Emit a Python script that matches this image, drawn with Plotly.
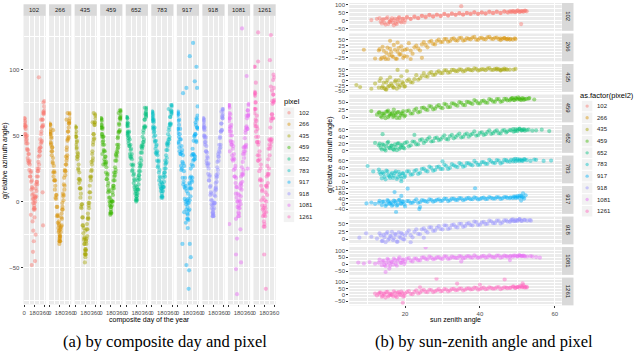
import plotly.graph_objects as go

W, H = 640, 352

pixels = [102, 266, 435, 459, 652, 783, 917, 918, 1081, 1261]
colors = ['#F8766D', '#D89000', '#A3A500', '#39B600', '#00BF7D',
          '#00BFC4', '#00B0F6', '#9590FF', '#E76BF3', '#FF62BC']

# ---- (a) composite day of the year ----
arm_days = [2, 6, 10, 14, 18, 24, 30, 36, 44, 52, 60, 68, 76, 84, 92, 100, 110, 120, 130, 140, 150, 160, 168, 176,
            184, 190, 198, 206, 214, 222, 230, 238, 246, 254, 262, 270, 278, 286, 294, 302, 310, 318, 326, 334, 342, 350, 358, 364]
arm_days_b = [4, 8, 12, 16, 21, 27, 33, 40, 48, 56, 64, 72, 80, 88, 96, 105, 115, 125, 135, 145, 155, 164, 172, 179,
              182, 187, 194, 202, 210, 218, 226, 234, 242, 250, 258, 266, 274, 282, 290, 298, 306, 314, 322, 330, 338, 346, 354, 361]

g_day_102 = [63, 56, 60, 51, 58, 51, 57, 44, 47, 40, 44, 31, 36, 36, 24, 28, 19, 23, 9, 11, 10, -1, 2, -5,
             -5, 4, 0, 10, 4, 15, 15, 25, 19, 30, 25, 40, 35, 41, 41, 51, 45, 56, 62, 57, 67, 66, 72, 69]
g_day_266 = [59, 51, 58, 45, 52, 44, 49, 35, 38, 30, 33, 19, 23, 22, 9, 12, 2, 5, -11, -10, -11, -23, -22, -29,
             -30, -20, -23, -12, -18, -6, -4, 6, 1, 13, 9, 24, 20, 28, 28, 39, 33, 46, 53, 48, 59, 59, 66, 63]
g_day_435 = [57, 49, 56, 43, 49, 41, 46, 32, 34, 25, 28, 14, 17, 16, 3, 6, -5, -2, -18, -18, -20, -32, -32, -39,
             -40, -29, -32, -21, -26, -13, -12, -1, -5, 7, 3, 19, 16, 23, 24, 36, 31, 43, 51, 47, 58, 58, 66, 63]
g_day_459 = [63, 56, 62, 51, 58, 51, 56, 43, 46, 39, 43, 30, 34, 34, 22, 26, 17, 21, 7, 9, 8, -3, -1, -8,
             -8, 1, -3, 7, 0, 12, 12, 22, 16, 26, 22, 36, 31, 38, 37, 48, 41, 52, 59, 53, 63, 62, 68, 65]
g_day_652 = [64, 57, 63, 52, 60, 53, 59, 46, 49, 42, 47, 34, 39, 40, 28, 32, 24, 28, 14, 17, 16, 6, 8, 2,
             2, 11, 6, 16, 9, 20, 20, 29, 23, 33, 28, 42, 37, 43, 42, 52, 45, 56, 62, 56, 66, 64, 70, 66]
g_day_783 = [68, 61, 67, 56, 64, 57, 62, 49, 53, 46, 50, 37, 42, 43, 31, 35, 27, 31, 16, 19, 18, 8, 10, 4,
             4, 13, 8, 18, 11, 22, 22, 31, 25, 35, 30, 44, 39, 45, 44, 54, 47, 58, 64, 58, 68, 66, 72, 68]
g_day_917 = [65, 52, 68, 45, 61, 49, 62, 38, 47, 36, 47, 24, 37, 39, 18, 29, 15, 27, 2, 10, 12, -6, 1, -9,
             -10, 6, -7, 10, -6, 13, 10, 25, 10, 28, 15, 40, 27, 36, 32, 49, 32, 51, 60, 46, 63, 56, 65, 55]
g_day_918 = [63, 56, 62, 50, 58, 50, 56, 43, 45, 38, 42, 29, 34, 33, 21, 25, 16, 20, 5, 7, 6, -5, -3, -9,
             -10, -1, -5, 5, -1, 10, 11, 20, 15, 26, 21, 36, 31, 38, 37, 48, 41, 53, 59, 54, 64, 63, 69, 66]
g_day_1081 = [72, 61, 73, 55, 67, 57, 66, 46, 53, 43, 50, 32, 40, 42, 24, 32, 19, 27, 6, 11, 11, -4, 0, -8,
              -9, 5, -5, 10, -2, 14, 12, 26, 15, 30, 21, 41, 33, 41, 38, 52, 41, 56, 65, 55, 69, 65, 73, 66]
g_day_1261 = [81, 67, 83, 59, 75, 62, 75, 49, 57, 45, 55, 31, 43, 45, 23, 32, 17, 28, 1, 8, 9, -11, -5, -15,
              -17, 1, -11, 7, -8, 12, 11, 27, 14, 32, 21, 47, 35, 46, 42, 61, 45, 66, 76, 63, 81, 75, 86, 77]

g_dayb_102 = [58, 63, 57, 61, 49, 55, 46, 49, 50, 39, 33, 39, 29, 30, 31, 19, 22, 15, 16, 5, 2, 6, -6, -3,
              -1, -6, 3, 3, 13, 8, 19, 13, 23, 23, 34, 28, 38, 38, 47, 44, 53, 46, 57, 62, 58, 68, 67, 76]
g_dayb_266 = [53, 58, 51, 55, 43, 48, 38, 41, 41, 29, 22, 27, 16, 16, 16, 3, 5, -4, -4, -16, -20, -17, -30, -28,
              -26, -30, -21, -19, -9, -13, -1, -6, 4, 5, 18, 12, 23, 23, 34, 31, 41, 35, 47, 53, 49, 61, 60, 67]
g_dayb_435 = [51, 56, 49, 53, 40, 45, 34, 37, 36, 24, 17, 22, 10, 10, 10, -4, -2, -12, -12, -24, -29, -27, -40, -37,
              -36, -40, -30, -28, -17, -21, -9, -13, -3, -1, 12, 7, 18, 19, 30, 28, 38, 33, 45, 51, 48, 60, 60, 65]
g_dayb_459 = [58, 63, 56, 61, 49, 55, 45, 49, 49, 38, 32, 38, 28, 29, 30, 17, 20, 12, 14, 3, 0, 3, -9, -6,
              -4, -9, 0, 0, 10, 5, 16, 10, 19, 20, 31, 24, 35, 34, 43, 40, 49, 43, 53, 58, 54, 64, 63, 69]
g_dayb_652 = [59, 64, 58, 63, 51, 57, 48, 52, 53, 42, 36, 43, 33, 34, 36, 23, 27, 20, 21, 11, 9, 12, 1, 4,
              6, 1, 9, 9, 18, 13, 23, 17, 26, 27, 37, 31, 41, 40, 49, 45, 54, 47, 57, 62, 57, 67, 65, 71]
g_dayb_783 = [63, 68, 62, 66, 55, 61, 52, 55, 56, 45, 40, 46, 36, 37, 38, 26, 30, 22, 24, 13, 11, 15, 3, 6,
              8, 3, 11, 11, 20, 15, 25, 19, 28, 29, 39, 33, 43, 42, 51, 47, 56, 49, 59, 64, 59, 69, 67, 73]
g_dayb_917 = [55, 67, 55, 66, 44, 58, 41, 51, 55, 36, 27, 42, 25, 30, 35, 13, 23, 11, 18, 0, -2, 8, -13, -4,
              -1, -13, 2, -1, 14, 1, 18, 4, 19, 16, 35, 18, 36, 31, 46, 35, 50, 34, 51, 58, 45, 62, 56, 72]
g_dayb_918 = [57, 63, 56, 61, 49, 54, 45, 48, 49, 38, 31, 37, 27, 28, 29, 16, 19, 11, 12, 1, -2, 1, -11, -8,
              -6, -11, -2, -1, 8, 4, 14, 9, 18, 19, 30, 24, 34, 34, 43, 40, 49, 43, 53, 59, 54, 65, 63, 70]
g_dayb_1081 = [64, 73, 63, 71, 53, 63, 50, 56, 58, 43, 35, 45, 31, 33, 36, 19, 25, 14, 18, 3, 0, 6, -11, -5,
               -3, -11, 1, 0, 13, 4, 19, 9, 21, 20, 36, 24, 38, 36, 48, 42, 54, 43, 57, 63, 55, 69, 65, 74]
g_dayb_1261 = [70, 82, 70, 80, 57, 70, 53, 61, 65, 45, 35, 49, 31, 35, 38, 16, 25, 12, 16, -3, -6, 3, -19, -10,
               -8, -19, -3, -5, 12, 0, 19, 5, 21, 20, 40, 25, 43, 40, 56, 47, 63, 47, 66, 74, 63, 81, 76, 94]

out_day_102 = [150, 162, 172, 158, 135, 195, 205, 338, 330, 262, 120, 185, 345, 300]
out_g_102 = [-15, -22, -30, -38, -48, -45, -25, -18, 7, 94, -10, -12, 75, 62]
out_day_266 = [172, 180, 168, 176, 186, 164, 300, 320, 340, 60]
out_g_266 = [-32, -27, -18, -25, -26, -15, 62, 67, 56, 54]
out_day_435 = [172, 180, 185, 165, 190, 178, 310, 330]
out_g_435 = [-46, -42, -36, -28, -37, -22, 60, 67]
out_day_459 = [170, 180, 25, 45, 320, 340]
out_g_459 = [-10, -4, 36, 28, 67, 69]
out_day_652 = [176, 185, 20, 40, 330, 350]
out_g_652 = [0, 4, 50, 44, 71, 68]
out_day_783 = [172, 180, 10, 30, 300, 345]
out_g_783 = [10, 14, 65, 60, 70, 73]
out_day_917 = [279, 220, 340, 99, 160, 310, 351, 88, 220, 160, 207, 238, 200, 150, 185, 195, 120]
out_g_917 = [120, 110, 102, 82, 86, 91, 86, -32, -32, -48, -52, -42, -66, -16, -20, -14, -8]
out_day_918 = [180, 175, 15, 5, 330, 350]
out_g_918 = [-11, -8, 55, 60, 68, 70]
out_day_1081 = [324, 241, 13, 133, 211, 151, 133, 223, 133, 151, 342, 20, 40]
out_g_1081 = [95, 131, -17, -13, -21, -28, -40, -46, -51, -70, 25, 38, 45]
out_day_1261 = [72, 12, 72, 300, 282, 0, 347, 300, 180, 210, 30, 18, 340, 320]
out_g_1261 = [128, 102, 106, 126, 107, 102, 96, 87, -40, -66, 90, 82, 92, 84]

# ---- (b) sun zenith angle ----
sza_102 = [11, 12.5, 13.5, 14, 14.5, 15, 15.5, 16, 16, 16.5, 17, 17, 17.5, 18, 18, 18.5, 19, 19.5, 20, 20.5,
           21.5, 22.5, 23.5, 24.5, 25.5, 26.5, 27.5, 28.5, 29.5, 30.5, 31.5, 32.5, 33.5, 34.5, 35.5, 36.5, 37.5,
           38.5, 39.5, 40.5, 41.5, 42.5, 43.5, 44.5, 45.5, 46.5, 47.5, 48, 48.5, 49, 49.5, 50, 50.5, 51, 51.5,
           52, 52.5, 35, 51]
g_sza_102 = [5, 12, -5, 8, -12, 15, -20, 2, -8, 18, -28, 5, -15, 10, -3, 22, -10, 14, 4, 25,
             12, 28, 18, 32, 22, 36, 28, 40, 30, 42, 35, 45, 38, 47, 40, 50, 43, 52, 44, 53,
             46, 55, 48, 56, 50, 58, 52, 60, 55, 62, 54, 64, 57, 61, 58, 65, 60, 92, -20]
sza_266 = [9, 12, 13, 13.5, 14, 14.5, 15, 15.5, 16, 16.5, 17, 17.5, 18, 18.5, 19, 19.5, 20, 20.5, 21, 22,
           23, 24, 25, 26, 27, 28, 29, 30, 31, 32, 33, 34, 35, 36, 37, 38, 39, 40, 41, 42,
           43, 44, 45, 45.5, 46, 46.5, 47, 47.5, 48, 49.5, 21.5, 24.5, 16, 18]
g_sza_266 = [8, -28, 5, -30, 20, -22, -5, -30, 12, -18, 28, -29, 0, -12, 22, -25, 8, -20, 35, -8,
             25, 5, 40, 18, 45, 30, 50, 40, 52, 44, 55, 46, 57, 48, 53, 58, 50, 56, 52, 59,
             54, 57, 52, 55, 53, 56, 52, 54, 50, 52, -30, -25, 45, 38]
sza_435 = [7, 8, 11, 12, 13, 13.5, 14, 14.5, 15, 15.5, 16, 16.5, 17, 17.5, 18, 18.5, 19, 19.5, 20, 21,
           22, 23, 24, 25, 26, 27, 28, 29, 30, 31, 32, 33, 34, 35, 36, 37, 38, 39, 40, 41,
           42, 43, 44, 44.5, 45, 45.5, 46, 46.5, 47, 49, 18, 20.5, 15]
g_sza_435 = [-22, -32, -40, -15, -35, 10, -28, -38, -10, -30, 15, -25, -35, 0, -20, -32, 20, -15, -28, 5,
             -10, 25, 10, 35, 18, 40, 28, 45, 35, 48, 40, 50, 44, 52, 46, 54, 48, 55, 50, 53,
             56, 51, 55, 52, 54, 50, 53, 51, 54, 52, 50, 45, -45]
sza_459 = [11, 12.5, 13, 13.5, 14, 14.5, 15, 15.5, 16, 16.5, 17, 17.5, 18, 18.5, 19, 19.5, 20, 21, 22, 23,
           24, 25, 26, 27, 28, 29, 30, 31, 32, 33, 34, 35, 36, 37, 38, 39, 40, 41, 42, 43,
           44, 45, 46, 47, 48, 48.5, 49, 49.5, 50, 50.5, 51, 51.5, 52, 53, 54.5, 17, 15.5]
g_sza_459 = [20, 8, 15, 3, 12, 6, 18, 0, 10, 14, 4, 8, 16, -3, 11, 20, 6, 22, 12, 28,
             18, 32, 24, 35, 28, 40, 30, 42, 34, 45, 38, 48, 40, 50, 44, 53, 46, 55, 48, 58,
             51, 60, 53, 61, 56, 63, 58, 64, 59, 62, 57, 63, 60, 62, 59, 25, 22]
sza_652 = [12, 13, 13.5, 14, 14.5, 15, 15.5, 16, 16.5, 17, 17.5, 18, 18.5, 19, 19.5, 20, 21, 22, 23, 24,
           25, 26, 27, 28, 29, 30, 31, 32, 33, 34, 35, 36, 37, 38, 39, 40, 41, 42, 43, 44,
           45, 46, 47, 48, 49, 49.5, 50, 50.5, 51, 51.5, 52, 53, 55, 58.5, 14, 22.5]
g_sza_652 = [22, 15, 8, 18, 4, 12, 25, 6, 14, 2, 10, 20, 5, 15, 8, 22, 12, 26, 18, 30,
             22, 33, 26, 36, 30, 38, 33, 41, 35, 44, 38, 46, 40, 48, 43, 51, 45, 53, 48, 55,
             50, 57, 52, 59, 54, 61, 56, 62, 58, 60, 57, 60, 58, 56, 47, 45]
sza_783 = [10, 11.5, 13, 13.5, 14, 14.5, 15, 15.5, 16, 16.5, 17, 17.5, 18, 18.5, 19, 19.5, 20, 21, 22, 23,
           24, 25, 26, 27, 28, 29, 30, 31, 32, 33, 34, 35, 36, 37, 38, 39, 40, 41, 42, 43,
           44, 45, 46, 47, 48, 49, 49.5, 50, 50.5, 51, 51.5, 52, 53.5, 55, 59, 19, 30]
g_sza_783 = [45, 30, 35, 22, 28, 15, 32, 20, 12, 26, 18, 30, 14, 22, 10, 25, 18, 30, 22, 34,
             26, 38, 30, 40, 34, 43, 37, 45, 40, 47, 42, 50, 45, 52, 47, 54, 49, 56, 51, 58,
             53, 60, 55, 61, 57, 63, 58, 64, 59, 62, 60, 63, 59, 62, 60, 2, 58]
sza_917 = [9.7, 11, 12, 13, 14, 15, 15.5, 16, 16.5, 17, 17.5, 18, 18.5, 19, 19.5, 20, 21, 22, 23, 24,
           25, 26, 27, 28, 29, 30, 31, 32, 33, 34, 35, 36, 37, 38, 39, 40, 41, 42, 43, 44,
           45, 46, 47, 48, 49, 49.5, 50, 50.5, 51, 51.5, 51.5, 17.2, 20.7, 17.6, 23.8, 38.7, 51, 19, 24]
g_sza_917 = [3, 10, 0, 8, 15, -5, 20, 5, -15, 25, 10, -8, 30, 2, 15, -20, 20, 8, 35, 12,
             25, 15, 30, 22, 35, 25, 38, 28, 40, 30, 42, 33, 45, 35, 44, 37, 48, 38, 46, 40,
             50, 42, 52, 44, 55, 45, 58, 48, 60, 80, 50, 90, 116, -63, -40, 119, 25, 60, -25]
sza_918 = [7.8, 9.6, 11, 12.5, 13.5, 14, 14.5, 15, 15.5, 16, 16.5, 17, 17.5, 18, 18.5, 19, 19.5, 20, 21, 22,
           23, 24, 25, 26, 27, 28, 29, 30, 31, 32, 33, 34, 35, 36, 37, 38, 39, 40, 41, 42,
           43, 44, 45, 46, 47, 48, 48.5, 49, 49.5, 50, 50.5, 51, 52, 53.6, 21.5, 25]
g_sza_918 = [5, 19, 8, 2, 12, -5, 6, 18, -2, 10, 24, 3, 14, -8, 8, 20, 0, 12, 28, 6,
             32, 16, 35, 22, 38, 28, 42, 32, 44, 36, 47, 38, 50, 42, 52, 45, 55, 47, 56, 50,
             58, 52, 60, 54, 61, 56, 63, 58, 62, 59, 64, 60, 62, 60, -10, 5]
sza_1081 = [7.5, 9, 10.5, 12, 13, 14, 14.5, 15, 15.5, 16, 16.5, 17, 17.5, 18, 18.5, 19, 19.5, 20, 21, 22,
            23, 24, 25, 26, 27, 28, 29, 30, 31, 32, 33, 34, 35, 36, 37, 38, 39, 40, 41, 42,
            43, 44, 45, 46, 47, 48, 49, 50, 50.5, 51, 51.5, 52, 54, 56, 25.5, 14.8, 15.8, 35, 48]
g_sza_1081 = [12, 5, 15, 3, 10, 20, -5, 8, 30, -12, 15, 40, 2, 25, 50, 10, 35, 18, 45, 20,
              40, 28, 50, 35, 48, 40, 52, 38, 55, 42, 50, 45, 55, 47, 58, 48, 54, 50, 60, 52,
              56, 50, 62, 53, 58, 55, 63, 57, 65, 58, 62, 56, 55, 47, 122, -57, -32, 20, 30]
sza_1261 = [12, 12.5, 13, 13.5, 14, 14.5, 15, 15.5, 16, 16.5, 17, 17.5, 18, 18.5, 19, 19.5, 20, 21, 22, 23,
            24, 25, 26, 27, 28, 29, 30, 31, 32, 33, 34, 35, 36, 37, 38, 39, 40, 41, 42, 43,
            44, 45, 46, 47, 48, 49, 49.5, 50, 50.5, 51, 51.5, 52, 52.5, 19.4, 28.4, 46.6, 33.9, 51.4, 24, 40]
g_sza_1261 = [10, -5, 8, 18, -8, 5, 22, -12, 10, 0, 28, -10, 15, 3, 25, -15, 12, 30, 5, 35,
              18, 40, 22, 38, 28, 45, 30, 42, 35, 48, 38, 50, 40, 52, 44, 55, 46, 58, 48, 55,
              50, 62, 52, 58, 55, 65, 56, 62, 58, 70, 60, 64, 58, -63, 128, 122, 89, 90, 60, 80]

# second pass of observations (shared zenith angles for the dense core)
sza_core2 = [13.2, 13.8, 14.3, 14.8, 15.3, 15.8, 16.3, 16.8, 17.3, 17.8, 18.3, 18.8, 19.3, 19.8,
             20.5, 21.5, 22.5, 23.5, 24.5, 25.5, 26.5, 27.5, 28.5, 29.5, 30.5, 31.5, 32.5, 33.5,
             34.5, 35.5, 36.5, 37.5, 38.5, 39.5, 40.5, 41.5, 42.5, 43.5, 44.5, 45.5, 46.5, 47.3]
g2_102 = [17, -16, 10, -23, 22, -6, 5, -13, 14, -20, 20, -3, 12, -10, 21, 13, 24, 17, 32, 27, 38, 27,
          37, 32, 44, 33, 45, 39, 48, 39, 49, 45, 55, 44, 52, 47, 58, 50, 58, 49, 59, 55]
g2_266 = [11, -25, 4, -30, 17, -14, -2, -21, 8, -29, 15, -10, 6, -18, 11, 5, 18, 13, 30, 28, 41, 32,
          44, 40, 52, 41, 53, 47, 56, 46, 56, 51, 61, 49, 57, 51, 61, 52, 58, 48, 56, 51]
g2_435 = [-3, -36, -10, -42, 2, -26, -15, -33, -6, -40, 0, -23, -8, -30, -2, -8, 6, 3, 21, 20, 34, 26,
          38, 35, 48, 37, 50, 44, 53, 43, 53, 49, 58, 47, 54, 49, 59, 50, 57, 47, 56, 51]
g2_459 = [16, -1, 12, -4, 18, 4, 10, 0, 14, -3, 17, 5, 13, 2, 20, 12, 23, 16, 31, 26, 37, 26,
          36, 32, 44, 33, 46, 41, 50, 41, 51, 47, 57, 46, 54, 49, 60, 52, 60, 51, 61, 56]
g2_652 = [20, 3, 16, 0, 22, 8, 14, 4, 18, 1, 21, 9, 17, 6, 24, 15, 25, 18, 32, 27, 38, 27,
          37, 32, 44, 32, 45, 39, 49, 39, 49, 45, 55, 44, 52, 47, 58, 50, 58, 49, 59, 55]
g2_783 = [28, 11, 24, 8, 30, 16, 22, 12, 26, 9, 29, 17, 25, 14, 30, 21, 31, 23, 37, 32, 43, 32,
          42, 37, 49, 37, 50, 44, 53, 43, 53, 49, 59, 48, 56, 51, 62, 54, 61, 52, 62, 58]
g2_917 = [23, -10, 16, -17, 28, 0, 11, -7, 20, -14, 26, 3, 18, -4, 21, 7, 20, 8, 28, 19, 35, 16,
          30, 22, 39, 21, 39, 30, 43, 27, 42, 35, 50, 33, 44, 36, 52, 40, 51, 37, 52, 45]
g2_918 = [19, -6, 14, -10, 23, 2, 10, -3, 17, -8, 22, 4, 16, -1, 21, 13, 24, 17, 32, 27, 38, 27,
          37, 33, 45, 33, 46, 40, 50, 40, 50, 46, 57, 46, 54, 49, 60, 52, 60, 51, 61, 57]
g2_1081 = [33, -7, 25, -15, 39, 5, 19, -3, 29, -11, 37, 9, 27, 1, 39, 26, 41, 28, 48, 39, 55, 36,
           49, 41, 57, 38, 55, 46, 58, 42, 57, 49, 64, 46, 57, 48, 64, 51, 62, 47, 62, 54]
g2_1261 = [18, -15, 11, -22, 23, -5, 6, -12, 15, -19, 21, -2, 13, -9, 21, 8, 23, 11, 32, 24, 40, 22,
           36, 29, 46, 28, 46, 37, 50, 34, 50, 43, 58, 41, 52, 44, 60, 48, 59, 45, 60, 53]

tail_sza_102 = [48.2, 48.7, 49.2, 49.7, 50.2, 50.7, 51.2, 51.7, 52.2]
tail_g_102 = [58, 62, 55, 60, 64, 57, 62, 59, 63]
tail_sza_266 = [48.2, 48.8, 49.3]
tail_g_266 = [53, 50, 55]
tail_sza_435 = [48, 49.5]
tail_g_435 = [52, 55]
tail_sza_459 = [48.2, 48.7, 49.2, 49.7, 50.2, 50.7, 51.2, 51.7, 52.4, 53.2]
tail_g_459 = [60, 64, 57, 62, 66, 59, 63, 58, 61, 64]
tail_sza_652 = [48.3, 48.9, 49.4, 50, 50.6, 51.2, 51.8, 52.5, 54, 56.5]
tail_g_652 = [58, 62, 56, 60, 63, 58, 61, 59, 57, 60]
tail_sza_783 = [48.3, 48.9, 49.4, 50, 50.6, 51.2, 51.8, 52.5, 54.5, 57]
tail_g_783 = [62, 58, 65, 60, 63, 59, 64, 61, 63, 59]
tail_sza_917 = [48.2, 48.8, 49.4, 50, 50.6, 51.2, 51.8, 52.2]
tail_g_917 = [50, 44, 56, 47, 62, 52, 40, 65]
tail_sza_918 = [48.2, 48.8, 49.4, 50, 50.6, 51.2, 51.8, 52.6, 53.3]
tail_g_918 = [60, 64, 58, 62, 65, 59, 63, 60, 62]
tail_sza_1081 = [48.2, 48.8, 49.4, 50, 50.6, 51.2, 51.8, 52.6, 53.5, 55]
tail_g_1081 = [60, 54, 62, 57, 64, 59, 61, 56, 58, 52]
tail_sza_1261 = [48.2, 48.8, 49.4, 50, 50.6, 51.2, 51.6, 52, 52.5]
tail_g_1261 = [58, 65, 55, 62, 68, 60, 75, 57, 63]

# free y scales of the right-hand facets
row_ranges = [[-62, 112], [-39.6, 75], [-54.8, 78.6], [-17.7, 75.7], [-6.6, 73.4],
              [-3, 74], [-77, 136], [-16.7, 73.3], [-77.7, 124.7], [-84, 137]]
row_ticks = [[-50, 0, 50, 100], [-25, 0, 25, 50], [-50, -25, 0, 25, 50], [0, 25, 50], [0, 20, 40, 60],
             [0, 20, 40, 60], [-40, 0, 40, 80, 120], [0, 25, 50], [-50, 0, 50, 100], [-50, 0, 50, 100]]

day_series = [
    (arm_days + arm_days_b + out_day_102, g_day_102 + g_dayb_102 + out_g_102),
    (arm_days + arm_days_b + out_day_266, g_day_266 + g_dayb_266 + out_g_266),
    (arm_days + arm_days_b + out_day_435, g_day_435 + g_dayb_435 + out_g_435),
    (arm_days + arm_days_b + out_day_459, g_day_459 + g_dayb_459 + out_g_459),
    (arm_days + arm_days_b + out_day_652, g_day_652 + g_dayb_652 + out_g_652),
    (arm_days + arm_days_b + out_day_783, g_day_783 + g_dayb_783 + out_g_783),
    (arm_days + arm_days_b + out_day_917, g_day_917 + g_dayb_917 + out_g_917),
    (arm_days + arm_days_b + out_day_918, g_day_918 + g_dayb_918 + out_g_918),
    (arm_days + arm_days_b + out_day_1081, g_day_1081 + g_dayb_1081 + out_g_1081),
    (arm_days + arm_days_b + out_day_1261, g_day_1261 + g_dayb_1261 + out_g_1261),
]
sza_series = [
    (sza_102 + sza_core2 + tail_sza_102, g_sza_102 + g2_102 + tail_g_102),
    (sza_266 + sza_core2 + tail_sza_266, g_sza_266 + g2_266 + tail_g_266),
    (sza_435 + sza_core2 + tail_sza_435, g_sza_435 + g2_435 + tail_g_435),
    (sza_459 + sza_core2 + tail_sza_459, g_sza_459 + g2_459 + tail_g_459),
    (sza_652 + sza_core2 + tail_sza_652, g_sza_652 + g2_652 + tail_g_652),
    (sza_783 + sza_core2 + tail_sza_783, g_sza_783 + g2_783 + tail_g_783),
    (sza_917 + sza_core2 + tail_sza_917, g_sza_917 + g2_917 + tail_g_917),
    (sza_918 + sza_core2 + tail_sza_918, g_sza_918 + g2_918 + tail_g_918),
    (sza_1081 + sza_core2 + tail_sza_1081, g_sza_1081 + g2_1081 + tail_g_1081),
    (sza_1261 + sza_core2 + tail_sza_1261, g_sza_1261 + g2_1261 + tail_g_1261),
]

SANS = 'Liberation Sans, Arial, sans-serif'
SERIF = 'Liberation Serif, Times New Roman, serif'
PANEL = '#EBEBEB'
STRIP = '#D9D9D9'
TICKC = '#4D4D4D'
MSIZE, MALPHA = 4.2, 0.45


def fx(px):
    return px / W


def fy(py):
    return 1 - py / H


def rgba(hexc, a):
    h = hexc.lstrip('#')
    return 'rgba(%d,%d,%d,%.2f)' % (int(h[0:2], 16), int(h[2:4], 16), int(h[4:6], 16), a)


def minor_mid(ticks):
    step = ticks[1] - ticks[0]
    return [t - step / 2 for t in ticks] + [ticks[-1] + step / 2]


fig = go.Figure()
layout = {}
shapes = []
annotations = []

axis_common = dict(zeroline=False, showline=False, gridcolor='white', gridwidth=1,
                   tickfont=dict(family=SANS, size=6, color=TICKC), tickangle=0,
                   ticklen=2, tickwidth=0.6, tickcolor='#333333')

# ---- left chart: 10 facets in a row ----
lx0, lpitch, lw = 22.7, 25.75, 22.4
a_top, a_bot = 15.0, 306.0
for i, p in enumerate(pixels):
    n = i + 1
    sfx = '' if n == 1 else str(n)
    x0 = lx0 + i * lpitch
    xs, ys = day_series[i]
    fig.add_trace(go.Scatter(x=xs, y=ys, mode='markers', xaxis='x' + sfx, yaxis='y' + sfx,
                             marker=dict(color=colors[i], size=MSIZE, opacity=MALPHA, line=dict(width=0)),
                             showlegend=False, hoverinfo='skip'))
    layout['xaxis' + sfx] = dict(axis_common, domain=[fx(x0), fx(x0 + lw)], anchor='y' + sfx,
                                 range=[-12, 386], tickmode='array', tickvals=[0, 180, 360],
                                 ticks='outside',
                                 minor=dict(tickvals=[90, 270], showgrid=True, gridcolor='white', gridwidth=0.5))
    ya = dict(axis_common, domain=[fy(a_bot), fy(a_top)], anchor='x' + sfx, range=[-77.75, 140.5],
              tickmode='array', tickvals=[-50, 0, 50, 100],
              minor=dict(tickvals=[-75, -25, 25, 75, 125], showgrid=True, gridcolor='white', gridwidth=0.5))
    if n == 1:
        ya.update(ticks='outside')
    else:
        ya.update(showticklabels=False, ticks='')
    layout['yaxis' + sfx] = ya
    shapes.append(dict(type='rect', xref='paper', yref='paper', x0=fx(x0), x1=fx(x0 + lw),
                       y0=fy(a_top), y1=fy(3.3), fillcolor=STRIP, line=dict(width=0), layer='below'))
    annotations.append(dict(xref='paper', yref='paper', x=fx(x0 + lw / 2), y=fy(9.2), text=str(p),
                            showarrow=False, font=dict(family=SANS, size=6, color='#1A1A1A'),
                            xanchor='center', yanchor='middle'))

# ---- right chart: 10 facets stacked ----
rx0, rx1 = 351.0, 565.0
r_top0, r_pitch, r_h = 2.0, 30.77, 28.07
for j, p in enumerate(pixels):
    n = 11 + j
    top = r_top0 + j * r_pitch
    bot = top + r_h
    xs, ys = sza_series[j]
    fig.add_trace(go.Scatter(x=xs, y=ys, mode='markers', xaxis='x%d' % n, yaxis='y%d' % n,
                             marker=dict(color=colors[j], size=MSIZE, opacity=MALPHA, line=dict(width=0)),
                             showlegend=False, hoverinfo='skip'))
    xa = dict(axis_common, domain=[fx(rx0), fx(rx1)], anchor='y%d' % n, range=[5.1, 61.8],
              tickmode='array', tickvals=[20, 40, 60],
              minor=dict(tickvals=[10, 30, 50], showgrid=True, gridcolor='white', gridwidth=0.5))
    if j == 9:
        xa.update(ticks='outside')
    else:
        xa.update(showticklabels=False, ticks='', matches='x20')
    layout['xaxis%d' % n] = xa
    tv = row_ticks[j]
    layout['yaxis%d' % n] = dict(axis_common, domain=[fy(bot), fy(top)], anchor='x%d' % n,
                                 range=row_ranges[j], tickmode='array', tickvals=tv, ticks='outside',
                                 minor=dict(tickvals=minor_mid(tv), showgrid=True, gridcolor='white',
                                            gridwidth=0.5))
    shapes.append(dict(type='rect', xref='paper', yref='paper', x0=fx(565.3), x1=fx(577.0),
                       y0=fy(bot), y1=fy(top), fillcolor=STRIP, line=dict(width=0), layer='below'))
    annotations.append(dict(xref='paper', yref='paper', x=fx(571.2), y=fy((top + bot) / 2), text=str(p),
                            textangle=90, showarrow=False, font=dict(family=SANS, size=6, color='#1A1A1A'),
                            xanchor='center', yanchor='middle'))


# ---- legends (ggplot style keys) ----
def add_legend(title, tx, ty, kx, ky0, kstep, lab_x):
    annotations.append(dict(xref='paper', yref='paper', x=fx(tx), y=fy(ty), text=title, showarrow=False,
                            xanchor='left', yanchor='middle', font=dict(family=SANS, size=7.5, color='black')))
    for k, p in enumerate(pixels):
        cy = ky0 + k * kstep
        shapes.append(dict(type='rect', xref='paper', yref='paper', x0=fx(kx), x1=fx(kx + 10.5),
                           y0=fy(cy + 5.3), y1=fy(cy - 5.3), fillcolor='#F2F2F2', line=dict(width=0)))
        cx = kx + 5.25
        shapes.append(dict(type='circle', xref='paper', yref='paper', x0=fx(cx - 1.7), x1=fx(cx + 1.7),
                           y0=fy(cy + 1.7), y1=fy(cy - 1.7), fillcolor=rgba(colors[k], 0.45),
                           line=dict(width=0)))
        annotations.append(dict(xref='paper', yref='paper', x=fx(lab_x), y=fy(cy), text=str(p),
                                showarrow=False, xanchor='left', yanchor='middle',
                                font=dict(family=SANS, size=6, color='#1A1A1A')))


add_legend('pixel', 283.5, 101.0, 285.0, 112.7, 11.67, 298.0)
add_legend('as.factor(pixel2)', 582.0, 95.7, 585.5, 106.0, 11.78, 598.3)

# ---- axis titles and captions ----
title_font = dict(family=SANS, size=7, color='black')
annotations += [
    dict(xref='paper', yref='paper', x=fx(149.8), y=fy(322.0), text='composite day of the year',
         showarrow=False, font=title_font, xanchor='center', yanchor='middle'),
    dict(xref='paper', yref='paper', x=fx(458.0), y=fy(322.0), text='sun zenith angle',
         showarrow=False, font=title_font, xanchor='center', yanchor='middle'),
    dict(xref='paper', yref='paper', x=fx(4.0), y=fy(160.5), text='g(relative azimuth angle)',
         textangle=-90, showarrow=False, font=title_font, xanchor='center', yanchor='middle'),
    dict(xref='paper', yref='paper', x=fx(331.5), y=fy(154.5), text='g(relative azimuth angle)',
         textangle=-90, showarrow=False, font=title_font, xanchor='center', yanchor='middle'),
    dict(xref='paper', yref='paper', x=fx(165.0), y=fy(343.0), text='(a) by composite day and pixel',
         showarrow=False, font=dict(family=SERIF, size=16.5, color='black'), xanchor='center', yanchor='middle'),
    dict(xref='paper', yref='paper', x=fx(486.5), y=fy(343.0), text='(b) by sun-zenith angle and pixel',
         showarrow=False, font=dict(family=SERIF, size=16.5, color='black'), xanchor='center', yanchor='middle'),
]

fig.update_layout(**layout)
fig.update_layout(width=W, height=H, margin=dict(l=0, r=0, t=0, b=0), autosize=False,
                  paper_bgcolor='white', plot_bgcolor=PANEL, showlegend=False,
                  shapes=shapes, annotations=annotations)

# the page's default body margin would shift the figure by 8px
fig.write_html('out.html', config={'displayModeBar': False},
               post_script="document.body.style.margin='0px';")
